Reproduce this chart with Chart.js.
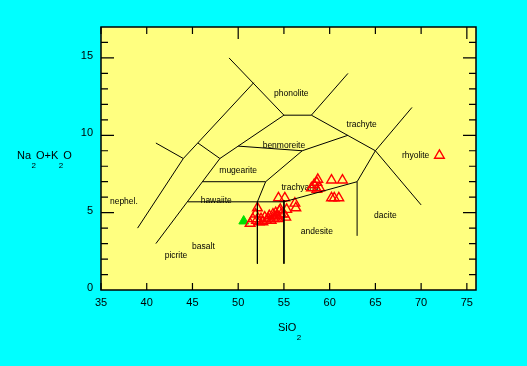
<!DOCTYPE html>
<html>
<head>
<meta charset="utf-8">
<script src="https://cdn.jsdelivr.net/npm/chart.js@4.4.1/dist/chart.umd.min.js"></script>
<style>
  body { margin: 0; background: #00ffff; }
  canvas { display: block; }
</style>
</head>
<body>
<canvas id="tasChart" width="527" height="366"></canvas>
<script>
// axis ticks
const xTicks = [35, 40, 45, 50, 55, 60, 65, 70, 75];
const xLongTicks = [50, 75];
const yTicks = [0, 5, 10, 15];

// field boundaries of the TAS diagram, [SiO2, Na2O+K2O]
const fieldLines = [
  [[39, 4], [44, 8.5], [51.7, 13.4]],
  [[41, 9.5], [44, 8.5]],
  [[45.6, 9.5], [48, 8.5]],
  [[41, 3], [48, 8.5], [50, 9.3], [55, 11.3]],
  [[49, 15], [55, 11.3]],
  [[55, 11.3], [58, 11.3], [62, 14]],
  [[58, 11.3], [65, 9], [70, 5.5]],
  [[50, 9.3], [57, 9]],
  [[52.1, 5.7], [53, 7], [57, 9], [62, 10]],
  [[46.1, 7], [53, 7]],
  [[44.5, 5.7], [55, 5.7], [63, 7]],
  [[63, 3.5], [63, 7], [65, 9], [69, 11.8]],
  [[52.1, 5.7], [52.1, 1.7]],
  [[55, 5.8], [55, 1.7]]
];

// field names
const fieldNames = ['phonolite', 'trachyte', 'benmoreite', 'mugearite', 'trachyand.', 'hawaiite',
  'nephel.', 'basalt', 'picrite', 'andesite', 'dacite', 'rhyolite'];
const fieldX = [55.8, 63.5, 55.0, 50.0, 56.9, 47.6, 37.5, 46.2, 43.2, 58.6, 66.1, 69.4];
const fieldY = [12.7, 10.7, 9.3, 7.7, 6.6, 5.75, 5.7, 2.8, 2.2, 3.8, 4.8, 8.7];

// samples (red open triangles)
const sampleSiO2 = [51.3, 51.6, 51.9, 52.1, 52.0, 52.3, 52.5, 52.7, 52.9, 53.1, 53.3, 53.4, 53.6,
  53.8, 53.9, 54.0, 54.1, 54.3, 54.4, 54.5, 54.6, 54.7, 55.0, 55.2, 55.3,
  54.4, 55.1, 56.2, 56.3,
  58.0, 58.3, 58.6, 58.7, 58.6, 58.9,
  60.2, 61.4, 60.2, 60.5, 61.0,
  72.0];
const sampleAlkali = [4.3, 4.6, 4.9, 5.3, 4.5, 4.4, 4.6, 4.4, 4.7, 4.5, 4.6, 4.8, 4.5,
  4.9, 4.6, 4.7, 5.0, 4.8, 4.6, 5.1, 5.2, 4.9, 4.9, 4.7, 5.2,
  5.95, 5.95, 5.6, 5.3,
  6.6, 6.8, 6.95, 7.15, 6.5, 6.6,
  7.1, 7.1, 5.95, 5.95, 5.95,
  8.7];

// reference sample (green filled triangle)
const refSiO2 = [50.6];
const refAlkali = [4.45];

const toPoints = (xs, ys) => xs.map((v, i) => ({ x: v, y: ys[i] }));

const lineSets = fieldLines.map(line => ({
  data: line.map(p => ({ x: p[0], y: p[1] })),
  showLine: true,
  borderColor: '#000',
  borderWidth: 1,
  pointRadius: 0,
  fill: false,
}));

const FONT = '"Liberation Sans", Arial, sans-serif';

const tasFrame = {
  id: 'tasFrame',
  beforeDraw(chart) {
    const { ctx, chartArea: a } = chart;
    ctx.save();
    ctx.fillStyle = '#ffff80';
    ctx.fillRect(a.left, a.top, a.right - a.left, a.bottom - a.top);
    ctx.restore();
  },
  beforeDatasetsDraw(chart) {
    const { ctx, scales: { x, y } } = chart;
    ctx.save();
    ctx.font = '8.5px ' + FONT;
    ctx.fillStyle = '#000';
    ctx.textAlign = 'center';
    ctx.textBaseline = 'middle';
    fieldNames.forEach((n, i) => {
      ctx.fillText(n, x.getPixelForValue(fieldX[i]), y.getPixelForValue(fieldY[i]));
    });
    ctx.restore();
  },
  afterDraw(chart) {
    const { ctx, chartArea: a, scales: { x, y } } = chart;
    ctx.save();
    ctx.strokeStyle = '#000';
    ctx.lineWidth = 1.5;
    ctx.strokeRect(a.left, a.top, a.right - a.left, a.bottom - a.top);

    ctx.lineWidth = 1.2;
    ctx.beginPath();
    // x ticks, top and bottom, pointing inward
    xTicks.forEach(v => {
      const px = x.getPixelForValue(v);
      const len = xLongTicks.includes(v) ? 12 : 7;
      ctx.moveTo(px, a.bottom); ctx.lineTo(px, a.bottom - 7);
      ctx.moveTo(px, a.top); ctx.lineTo(px, a.top + len);
    });
    // y ticks every unit, longer at labelled ones
    for (let v = 1; v <= 16; v++) {
      const py = y.getPixelForValue(v);
      const len = yTicks.includes(v) ? 13 : 7;
      ctx.moveTo(a.left, py); ctx.lineTo(a.left + len, py);
      ctx.moveTo(a.right, py); ctx.lineTo(a.right - len, py);
    }
    ctx.stroke();

    ctx.fillStyle = '#000';
    ctx.font = '11px ' + FONT;
    ctx.textAlign = 'center';
    ctx.textBaseline = 'middle';
    xTicks.forEach(v => ctx.fillText(String(v), x.getPixelForValue(v), a.bottom + 13));
    ctx.textAlign = 'right';
    yTicks.forEach(v => ctx.fillText(String(v), a.left - 8, y.getPixelForValue(v) - 2));

    // axis titles with subscripts
    ctx.textAlign = 'left';
    ctx.textBaseline = 'alphabetic';
    const parts = (x0, base, segs) => {
      let cx = x0;
      segs.forEach(s => {
        ctx.font = (s.sub ? '8px ' : '11px ') + FONT;
        ctx.fillText(s.t, cx, s.sub ? base + 9 : base);
        cx += ctx.measureText(s.t).width + (s.sub ? 0 : 0.5);
      });
    };
    parts(17, 159, [{ t: 'Na' }, { t: '2', sub: true }, { t: 'O+K' }, { t: '2', sub: true }, { t: 'O' }]);
    parts(278, 331, [{ t: 'SiO' }, { t: '2', sub: true }]);
    ctx.restore();
  }
};

new Chart(document.getElementById('tasChart'), {
  type: 'scatter',
  data: {
    datasets: [
      ...lineSets,
      {
        data: toPoints(sampleSiO2, sampleAlkali),
        pointStyle: 'triangle',
        pointRadius: 5.6,
        borderColor: '#ff0000',
        backgroundColor: 'rgba(0,0,0,0)',
        borderWidth: 1.4,
      },
      {
        data: toPoints(refSiO2, refAlkali),
        pointStyle: 'triangle',
        pointRadius: 5.6,
        borderColor: '#00e000',
        backgroundColor: '#00e000',
        borderWidth: 1,
      }
    ]
  },
  options: {
    responsive: false,
    animation: false,
    layout: { padding: { left: 101, right: 51, top: 27, bottom: 76 } },
    plugins: { legend: { display: false }, tooltip: { enabled: false } },
    scales: {
      x: { type: 'linear', min: 35, max: 76, display: false },
      y: { type: 'linear', min: 0, max: 17, display: false }
    }
  },
  plugins: [tasFrame]
});
</script>
</body>
</html>
